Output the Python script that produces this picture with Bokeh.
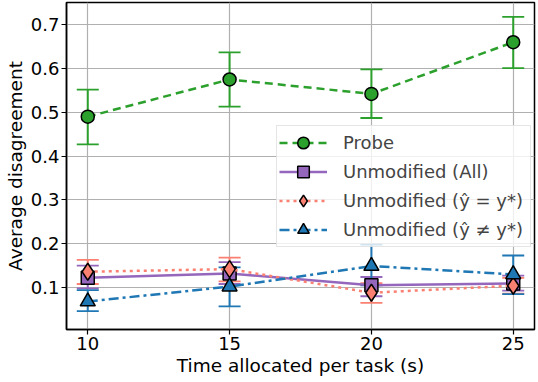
from bokeh.plotting import figure
from bokeh.models import (ColumnDataSource, Whisker, TeeHead, Legend, LegendItem,
                          FixedTicker, Range1d)
from bokeh.embed import file_html
from bokeh.resources import INLINE

# ---- data ----
times = [10, 15, 20, 25]

probe = [0.490, 0.575, 0.542, 0.660]
probe_lo = [0.427, 0.513, 0.487, 0.601]
probe_hi = [0.552, 0.637, 0.598, 0.718]

unmod_all = [0.122, 0.132, 0.105, 0.109]
unmod_all_lo = [0.098, 0.108, 0.080, 0.093]
unmod_all_hi = [0.150, 0.158, 0.124, 0.127]

unmod_eq = [0.136, 0.142, 0.088, 0.104]
unmod_eq_lo = [0.108, 0.114, 0.065, 0.086]
unmod_eq_hi = [0.163, 0.168, 0.110, 0.122]

unmod_neq = [0.068, 0.102, 0.149, 0.130]
unmod_neq_lo = [0.046, 0.057, 0.105, 0.085]
unmod_neq_hi = [0.094, 0.146, 0.198, 0.173]

x_ticks = [10, 15, 20, 25]
y_ticks = [0.1, 0.2, 0.3, 0.4, 0.5, 0.6, 0.7]

labels = ["Probe", "Unmodified (All)", "Unmodified (\u0177 = y*)", "Unmodified (\u0177 \u2260 y*)"]

FONT = "DejaVu Sans"

p = figure(width=536, height=381, output_backend="svg", toolbar_location=None,
           x_range=Range1d(9.25, 25.75), y_range=Range1d(0.0041, 0.7507),
           min_border_left=66, min_border_right=2, min_border_top=2, min_border_bottom=52)

p.outline_line_color = "black"
p.outline_line_width = 1.5
p.grid.grid_line_color = "#b0b0b0"
p.grid.grid_line_width = 1.2
p.xaxis.ticker = FixedTicker(ticks=x_ticks)
p.yaxis.ticker = FixedTicker(ticks=y_ticks)
for ax in (p.xaxis, p.yaxis):
    ax.major_label_text_font = FONT
    ax.major_label_text_font_size = "18px"
    ax.major_label_text_color = "black"
    ax.axis_label_text_font = FONT
    ax.axis_label_text_font_size = "18.5px"
    ax.axis_label_text_font_style = "normal"
    ax.axis_label_text_color = "black"
    ax.minor_tick_line_color = None
    ax.major_tick_in = 0
    ax.major_tick_out = 5
    ax.major_tick_line_width = 1.2
    ax.axis_line_width = 1.5
    ax.major_label_standoff = 2
    ax.axis_label_standoff = 2
p.xaxis.axis_label = "Time allocated per task (s)"
p.yaxis.axis_label = "Average disagreement"

series = [
    (probe, probe_lo, probe_hi, "#2ca02c", "8 5", "circle", 13),
    (unmod_all, unmod_all_lo, unmod_all_hi, "#9467bd", "solid", "square", 13),
    (unmod_eq, unmod_eq_lo, unmod_eq_hi, "#fa8072", "3 4", "diamond", 17),
    (unmod_neq, unmod_neq_lo, unmod_neq_hi, "#1f77b4", "10 4 3 4", "triangle", 15),
]

items = []
for (vals, lo, hi, color, dash, marker, size), label in zip(series, labels):
    src = ColumnDataSource(dict(x=times, y=vals, lo=lo, hi=hi))
    w = Whisker(base="x", upper="hi", lower="lo", source=src,
                line_color=color, line_width=2,
                upper_head=TeeHead(size=22, line_color=color, line_width=1.8),
                lower_head=TeeHead(size=22, line_color=color, line_width=1.8))
    p.add_layout(w)
    lr = p.line("x", "y", source=src, line_color=color, line_width=2.5, line_dash=dash)
    sr = p.scatter("x", "y", source=src, marker=marker, size=size,
                   fill_color=color, line_color="black", line_width=1.5)
    items.append(LegendItem(label=label, renderers=[lr, sr]))

legend = Legend(items=items, location=(210, 82),
                label_text_font=FONT, label_text_font_size="18px",
                label_height=29, glyph_height=29, glyph_width=48,
                label_standoff=16, spacing=0, padding=2, margin=0,
                label_width=185,
                border_line_color="#cccccc", border_line_width=1,
                background_fill_color="white", background_fill_alpha=0.8)
p.add_layout(legend)

open("out.html", "w").write(file_html(p, INLINE))
